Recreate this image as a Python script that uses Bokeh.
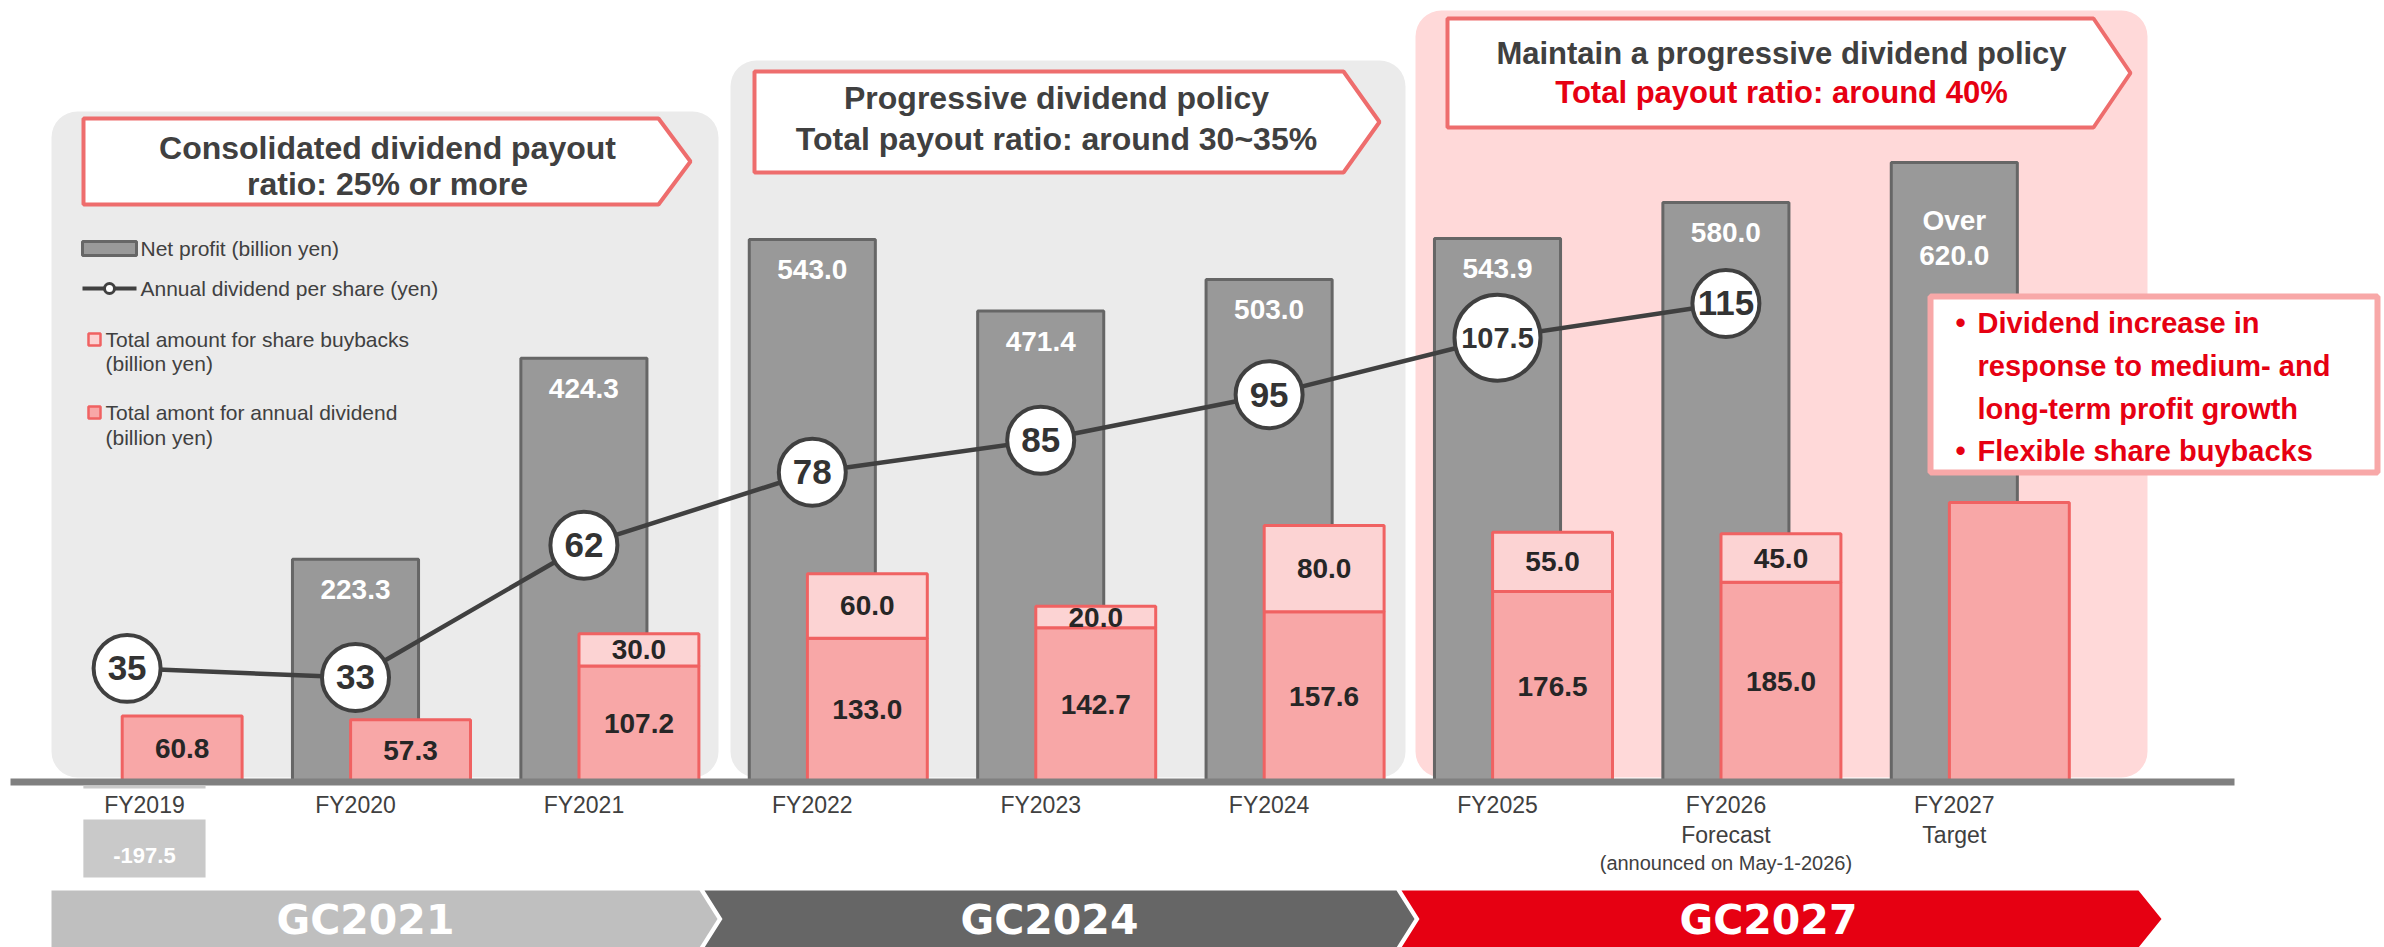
from bokeh.plotting import figure
from bokeh.models import Range1d, ColumnDataSource
from bokeh.core.properties import value
from bokeh.embed import file_html
from bokeh.resources import INLINE

# ---------------- data ----------------
years = ["FY2019", "FY2020", "FY2021", "FY2022", "FY2023", "FY2024", "FY2025", "FY2026", "FY2027"]
year_sub = ["", "", "", "", "", "", "", "Forecast", "Target"]
year_note = ["", "", "", "", "", "", "", "(announced on May-1-2026)", ""]
net_profit = [-197.5, 223.3, 424.3, 543.0, 471.4, 503.0, 543.9, 580.0, 620.0]
net_profit_prefix = ["", "", "", "", "", "", "", "", "Over"]
dividend_total = [60.8, 57.3, 107.2, 133.0, 142.7, 157.6, 176.5, 185.0, 259.0]
dividend_shown = [True, True, True, True, True, True, True, True, False]
buybacks = [0.0, 0.0, 30.0, 60.0, 20.0, 80.0, 55.0, 45.0, 0.0]
dps = [35, 33, 62, 78, 85, 95, 107.5, 115]
dps_labels = ["35", "33", "62", "78", "85", "95", "107.5", "115"]
eras = ["GC2021", "GC2024", "GC2027"]
callout_lines = [
    ["Consolidated dividend payout", "ratio: 25% or more"],
    ["Progressive dividend policy", "Total payout ratio: around 30~35%"],
    ["Maintain a progressive dividend policy", "Total payout ratio: around 40%"],
]
bullets = ["Dividend increase in", "response to medium- and", "long-term profit growth", "Flexible share buybacks"]
bullet_marks = ["•", "", "", "•"]
legend_items = ["Net profit (billion yen)", "Annual dividend per share (yen)",
                "Total amount for share buybacks", "(billion yen)",
                "Total amont for annual dividend", "(billion yen)"]

# ---------------- styles ----------------
FONT = value("Liberation Sans")
DARK = "#404040"
GRAY_FILL, GRAY_LINE = "#999999", "#666666"
PINK_FILL, PINK_LINE, PINK_LIGHT = "#F8A7A7", "#F06262", "#FCD3D3"
RED = "#E60012"
CALLOUT_LINE = "#EE6D6D"

W, H = 2384, 947
GRAY_W = 0.552
PINK_W = 0.525
PINK_OFF = 0.241

p = figure(width=W, height=H, x_range=Range1d(-0.5543, 9.8835), y_range=Range1d(-165, 782),
           output_backend="svg", toolbar_location=None, min_border=0,
           x_axis_location=None, y_axis_location=None)
p.grid.visible = False
p.outline_line_color = None
p.background_fill_color = "white"
p.border_fill_color = "white"
p.extra_x_ranges = {"px": Range1d(0, 2384)}
p.extra_y_ranges = {"px": Range1d(947, 0),
                    "pink": Range1d(-154.13, 725.16),
                    "div": Range1d(-26.2, 181.43)}

PX = dict(x_range_name="px", y_range_name="px")


def txt(x, y, t, size, color=DARK, bold=True, align="center", xr="px", yr="px", **kw):
    p.text(x=x, y=y, text=t, text_font=FONT, text_font_size=size,
           text_font_style="bold" if bold else "normal", text_color=color,
           text_align=align, text_baseline="middle",
           x_range_name=xr, y_range_name=yr, **kw)


# ---------------- background panels ----------------
p.quad(left=[51, 730], right=[718, 1405], top=[111, 60], bottom=[777, 777],
       fill_color="#EBEBEB", line_color=None, border_radius=26, **PX)
p.quad(left=[1415], right=[2147], top=[10], bottom=[777],
       fill_color="#FFD9D9", line_color=None, border_radius=26, **PX)

# ---------------- callouts ----------------
c_boxes = [(83, 658, 690, 118, 204), (754, 1343, 1379, 71, 172), (1447, 2093, 2130, 18, 127)]
cx, cy = [], []
for (l, r, tip, t, b) in c_boxes:
    cx.append([l, r, tip, r, l])
    cy.append([t, t, (t + b) / 2, b, b])
p.patches(xs=cx, ys=cy, fill_color="white", line_color=CALLOUT_LINE, line_width=4, **PX)
txt([387, 387], [147, 183], callout_lines[0], "32px")
txt([1056, 1056], [97, 138], callout_lines[1], "32px")
txt([1781], [53], [callout_lines[2][0]], "31px")
txt([1781], [92], [callout_lines[2][1]], "31px", color=RED)

# ---------------- legend ----------------
p.quad(left=[82], right=[136], top=[241], bottom=[255], fill_color=GRAY_FILL,
       line_color=GRAY_LINE, line_width=3, **PX)
p.line(x=[82, 136], y=[288, 288], line_color=DARK, line_width=4, **PX)
p.scatter(x=[109], y=[288], size=10, fill_color="white", line_color=DARK, line_width=3, **PX)
p.quad(left=[88], right=[100], top=[333], bottom=[345], fill_color=PINK_LIGHT,
       line_color=PINK_LINE, line_width=2.5, **PX)
p.quad(left=[88], right=[100], top=[406], bottom=[418], fill_color=PINK_FILL,
       line_color=PINK_LINE, line_width=2.5, **PX)
txt([140, 140, 105, 105, 105, 105], [248, 288, 339, 363, 412, 437], legend_items, "21px",
    bold=False, align="left")

# ---------------- net profit bars ----------------
pos_idx = [i for i, v in enumerate(net_profit) if v > 0]
p.vbar(x=pos_idx, top=[net_profit[i] for i in pos_idx], bottom=0, width=GRAY_W,
       fill_color=GRAY_FILL, line_color=GRAY_LINE, line_width=3)

# ---------------- payout bars ----------------
px_x = [i + PINK_OFF for i in range(len(years))]
p.vbar(x=px_x, top=dividend_total, bottom=0, width=PINK_W, fill_color=PINK_FILL,
       line_color=PINK_LINE, line_width=3, y_range_name="pink")
bb_idx = [i for i, v in enumerate(buybacks) if v > 0]
p.vbar(x=[px_x[i] for i in bb_idx], bottom=[dividend_total[i] for i in bb_idx],
       top=[dividend_total[i] + buybacks[i] for i in bb_idx], width=PINK_W,
       fill_color=PINK_LIGHT, line_color=PINK_LINE, line_width=3, y_range_name="pink")

# ---------------- baseline ----------------
p.quad(left=[10], right=[2234], top=[778], bottom=[785], fill_color="#808080", line_color=None, **PX)

# ---------------- FY2019 negative (broken) bar ----------------
neg_idx = [i for i, v in enumerate(net_profit) if v < 0]
NEG_SHIFT = 0.076
p.vbar(x=[i + NEG_SHIFT for i in neg_idx], top=-3, bottom=-95, width=0.535,
       fill_color="#C9C9C9", line_color=None)
p.quad(left=[65], right=[225], top=[788], bottom=[819], fill_color="white", line_color=None, **PX)
txt([i + NEG_SHIFT for i in neg_idx], [-73] * len(neg_idx),
    ["%.1f" % net_profit[i] for i in neg_idx], "22px", color="white", xr="default", yr="default")

# ---------------- dividend per share line ----------------
dx = list(range(len(dps)))
p.line(x=dx, y=dps, line_color=DARK, line_width=4.5, y_range_name="div")
sizes = [86 if len(s) > 3 else 67 for s in dps_labels]
fsz = ["29px" if len(s) > 3 else "35px" for s in dps_labels]
p.scatter(x=dx, y=dps, size=sizes, fill_color="white", line_color=DARK, line_width=4,
          y_range_name="div")
src = ColumnDataSource(dict(x=dx, y=dps, t=dps_labels, fs=fsz))
p.text(x="x", y="y", text="t", source=src, text_font=FONT, text_font_size="fs",
       text_font_style="bold", text_color="#333333", text_align="center",
       text_baseline="middle", y_range_name="div")

# ---------------- value labels ----------------
np_x = [i for i in pos_idx]
np_y = [net_profit[i] for i in pos_idx]
np_t = ["%.1f" % net_profit[i] for i in pos_idx]
np_off = [93 if net_profit_prefix[i] else 30 for i in pos_idx]
src = ColumnDataSource(dict(x=np_x, y=np_y, t=np_t, o=np_off))
p.text(x="x", y="y", text="t", y_offset="o", source=src, text_font=FONT, text_font_size="28px",
       text_font_style="bold", text_color="white", text_align="center", text_baseline="middle")
pre_idx = [i for i in pos_idx if net_profit_prefix[i]]
txt(pre_idx, [net_profit[i] for i in pre_idx], [net_profit_prefix[i] for i in pre_idx], "28px",
    color="white", xr="default", yr="default", y_offset=58)

dv_idx = [i for i in range(len(years)) if dividend_shown[i]]
txt([px_x[i] for i in dv_idx], [dividend_total[i] / 2 for i in dv_idx],
    ["%.1f" % dividend_total[i] for i in dv_idx], "28px", color="#262626", xr="default", yr="pink")
txt([px_x[i] for i in bb_idx], [dividend_total[i] + buybacks[i] / 2 for i in bb_idx],
    ["%.1f" % buybacks[i] for i in bb_idx], "28px", color="#262626", xr="default", yr="pink")

# ---------------- category labels ----------------
lab_x = [i + (NEG_SHIFT if net_profit[i] < 0 else 0) for i in range(len(years))]
txt(lab_x, [804] * len(years), years, "23px", bold=False, xr="default")
sub_idx = [i for i in range(len(years)) if year_sub[i]]
txt([lab_x[i] for i in sub_idx], [834] * len(sub_idx), [year_sub[i] for i in sub_idx], "23px",
    bold=False, xr="default")
note_idx = [i for i in range(len(years)) if year_note[i]]
txt([lab_x[i] for i in note_idx], [862] * len(note_idx), [year_note[i] for i in note_idx], "20px",
    bold=False, xr="default")

# ---------------- right text box ----------------
p.quad(left=[1930], right=[2377], top=[296], bottom=[472], fill_color="white",
       line_color="#F8A8A8", line_width=6, **PX)
txt([1960, 1960, 1960, 1960], [322, 365, 408, 450], bullet_marks, "29px", color=RED)
txt([1977] * 4, [322, 365, 408, 450], bullets, "29px", color=RED, align="left")

# ---------------- era banners ----------------
bx = [[51, 699, 717, 699, 51],
      [704, 1396, 1414, 1396, 704, 722],
      [1401, 2138, 2161, 2138, 1401, 1419]]
by = [[890, 890, 918.5, 947, 947],
      [890, 890, 918.5, 947, 947, 918.5],
      [890, 890, 918.5, 947, 947, 918.5]]
p.patches(xs=bx, ys=by, fill_color=["#BFBFBF", "#666666", RED], line_color=None, **PX)
p.text(x=[365, 1049, 1768], y=[919, 919, 919], text=eras, text_font=value("DejaVu Sans"),
       text_font_size="41px", text_font_style="bold", text_color="white",
       text_align="center", text_baseline="middle", **PX)

open("out.html", "w").write(file_html(p, INLINE))
